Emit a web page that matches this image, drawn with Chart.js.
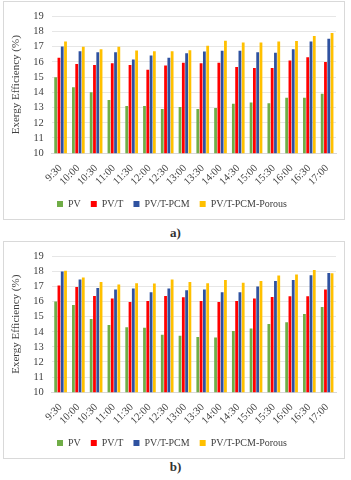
<!DOCTYPE html>
<html>
<head>
<meta charset="utf-8">
<script src="https://cdn.jsdelivr.net/npm/chart.js@4.4.0/dist/chart.umd.min.js"></script>
<style>
  body { margin: 0; background: #fff; font-family: "Liberation Serif", serif; }
  .box { position: absolute; left: 3px; width: 340px; border: 1px solid #d9d9d9; background: #fff; }
  .cap { position: absolute; left: 0; width: 351px; text-align: center; font-size: 13px; font-weight: bold; color: #333; }
</style>
</head>
<body>
<div class="box" style="top:1px;height:217px;"><canvas id="chartA" width="340" height="217"></canvas></div>
<div class="cap" style="top:225px;">a)</div>
<div class="box" style="top:241px;height:216px;"><canvas id="chartB" width="340" height="216"></canvas></div>
<div class="cap" style="top:459px;">b)</div>
<script>
// time of day
const times = ['9:30', '10:00', '10:30', '11:00', '11:30', '12:00', '12:30', '13:00',
  '13:30', '14:00', '14:30', '15:00', '15:30', '16:00', '16:30', '17:00'];
const seriesNames = ['PV', 'PV/T', 'PV/T-PCM', 'PV/T-PCM-Porous'];
const seriesColors = ['#70ad47', '#ff0000', '#2f52a0', '#ffc000'];
const yTicks = [10, 11, 12, 13, 14, 15, 16, 17, 18, 19];

// chart a)
const pvA = [15.0, 14.33, 14.0, 13.5, 13.1, 13.1, 12.9, 13.03, 12.9, 12.97, 13.25, 13.33, 13.28, 13.65, 13.65, 13.9];
const pvtA = [16.27, 15.86, 15.8, 15.92, 15.8, 15.48, 15.76, 15.94, 15.92, 15.94, 15.66, 15.6, 15.6, 16.1, 16.3, 16.0];
const pcmA = [17.02, 16.7, 16.64, 16.64, 16.16, 16.42, 16.27, 16.57, 16.68, 16.74, 16.74, 16.64, 16.6, 16.84, 17.35, 17.52];
const porousA = [17.35, 17.0, 16.83, 17.0, 16.75, 16.7, 16.7, 16.77, 17.07, 17.4, 17.28, 17.27, 17.35, 17.37, 17.7, 17.9];

// chart b)
const pvB = [16.0, 15.77, 14.85, 14.45, 14.3, 14.26, 13.8, 13.73, 13.66, 13.62, 14.05, 14.22, 14.52, 14.63, 15.17, 15.64];
const pvtB = [17.07, 16.96, 16.37, 16.2, 15.98, 16.04, 16.37, 16.28, 16.04, 15.98, 16.04, 16.21, 16.3, 16.35, 16.35, 16.8];
const pcmB = [18.0, 17.46, 16.9, 16.8, 16.86, 16.62, 16.86, 16.75, 16.8, 16.62, 16.62, 17.0, 17.37, 17.43, 17.75, 17.9];
const porousB = [18.05, 17.6, 17.3, 17.14, 17.22, 17.2, 17.46, 17.3, 17.22, 17.43, 17.24, 17.37, 17.72, 17.8, 18.1, 17.88];

const textColor = '#404040';
const serif = '"Liberation Serif", "Times New Roman", serif';

function makeChart(id, seriesData) {
  const ctx = document.getElementById(id).getContext('2d');
  return new Chart(ctx, {
    type: 'bar',
    data: {
      labels: times,
      datasets: seriesData.map((values, i) => ({
        label: seriesNames[i],
        data: values,
        backgroundColor: seriesColors[i],
        borderWidth: 0,
        categoryPercentage: 0.74,
        barPercentage: 0.85,
      })),
    },
    options: {
      responsive: false,
      animation: false,
      layout: { padding: { left: 4, right: 8, top: 8, bottom: 0 } },
      plugins: {
        legend: {
          position: 'bottom',
          labels: {
            boxWidth: 6,
            boxHeight: 6,
            padding: 10,
            color: textColor,
            font: { family: serif, size: 10 },
          },
        },
        tooltip: { enabled: false },
      },
      scales: {
        x: {
          grid: { display: false },
          border: { color: '#d9d9d9' },
          ticks: {
            color: textColor,
            font: { family: serif, size: 10.5 },
            minRotation: 45,
            maxRotation: 45,
            autoSkip: false,
            padding: 1,
          },
        },
        y: {
          min: 10,
          max: 19,
          afterBuildTicks: axis => { axis.ticks = yTicks.map(v => ({ value: v })); },
          grid: { color: '#e6e6e6', drawTicks: false },
          border: { display: false },
          ticks: {
            color: textColor,
            font: { family: serif, size: 10.5 },
            padding: 8,
            autoSkip: false,
          },
          title: {
            display: true,
            text: 'Exergy Efficiency (%)',
            color: textColor,
            font: { family: serif, size: 11 },
            padding: 2,
          },
        },
      },
    },
  });
}

makeChart('chartA', [pvA, pvtA, pcmA, porousA]);
makeChart('chartB', [pvB, pvtB, pcmB, porousB]);
</script>
</body>
</html>
